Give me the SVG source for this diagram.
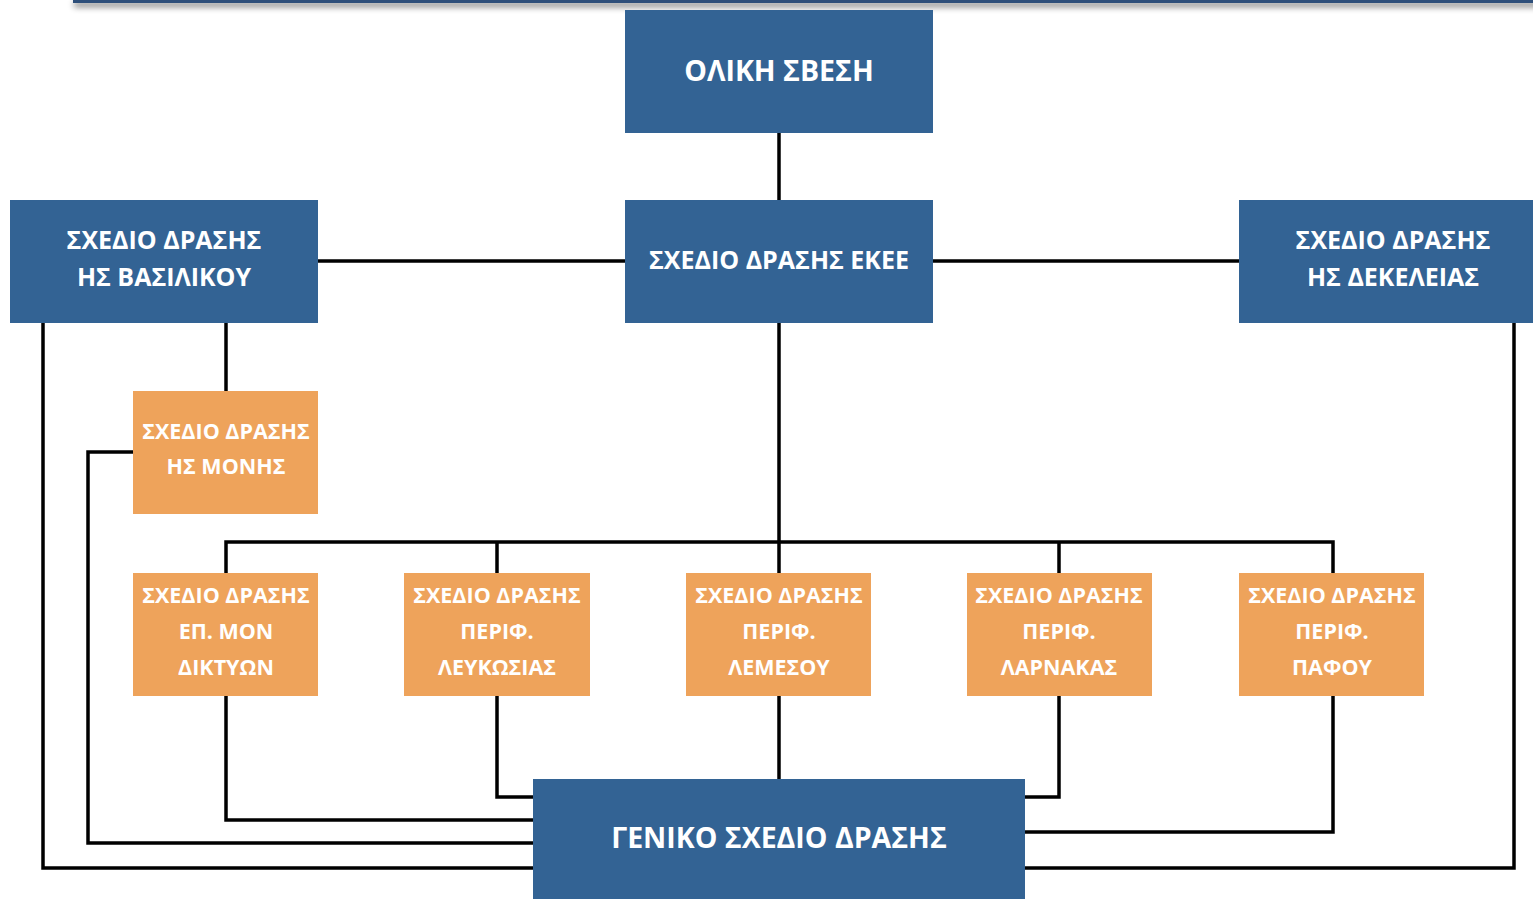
<svg xmlns="http://www.w3.org/2000/svg" width="1533" height="899" viewBox="0 0 1533 899">
<style>
.blue{fill:#336394}
.orange{fill:#EEA35B}
.tb{font-family:"Open Sans","Noto Sans","DejaVu Sans",sans-serif;font-weight:bold;fill:#fff;text-anchor:middle;font-size:25px}
.tl{font-size:28.5px}
.to{font-family:"Open Sans","Noto Sans","DejaVu Sans",sans-serif;font-weight:bold;fill:#fff;text-anchor:middle;font-size:21.5px}
.c{fill:none;stroke:#000;stroke-width:3.5}
</style>
<defs>
<filter id="sh" x="-5%" y="-200%" width="110%" height="600%">
<feGaussianBlur in="SourceAlpha" stdDeviation="3"/>
<feOffset dx="1" dy="4"/>
<feComponentTransfer><feFuncA type="linear" slope="0.5"/></feComponentTransfer>
<feMerge><feMergeNode/><feMergeNode in="SourceGraphic"/></feMerge>
</filter>
</defs>
<rect width="1533" height="899" fill="#fff"/>
<rect x="73" y="-2" width="1470" height="5" fill="#2F4F7A" filter="url(#sh)"/>
<g id="connectors">
<path class="c" d="M779 133V200"/>
<path class="c" d="M318 261H625M933 261H1239"/>
<path class="c" d="M226 323V391"/>
<path class="c" d="M779 323V573M226 573V542H1333V573M497 542V573M1059 542V573"/>
<path class="c" d="M779 696V779"/>
<path class="c" d="M226 696V820H533"/>
<path class="c" d="M497 696V797H533"/>
<path class="c" d="M1059 696V797H1025"/>
<path class="c" d="M1333 696V832H1025"/>
<path class="c" d="M1514 323V868H1025"/>
<path class="c" d="M43 323V868H533"/>
<path class="c" d="M133 452H88V843H533"/>
</g>
<g id="n_oliki"><rect class="blue" x="625" y="10" width="308" height="123"/><text class="tb tl" x="779" y="81">ΟΛΙΚΗ ΣΒΕΣΗ</text></g>
<g id="n_ekee"><rect class="blue" x="625" y="200" width="308" height="123"/><text class="tb" x="779" y="269">ΣΧΕΔΙΟ ΔΡΑΣΗΣ ΕΚΕΕ</text></g>
<g id="n_vasilikou"><rect class="blue" x="10" y="200" width="308" height="123"/><text class="tb" x="164" y="249">ΣΧΕΔΙΟ ΔΡΑΣΗΣ</text><text class="tb" x="164" y="286">ΗΣ ΒΑΣΙΛΙΚΟΥ</text></g>
<g id="n_dekeleias"><rect class="blue" x="1239" y="200" width="300" height="123"/><text class="tb" x="1393" y="249">ΣΧΕΔΙΟ ΔΡΑΣΗΣ</text><text class="tb" x="1393" y="286">ΗΣ ΔΕΚΕΛΕΙΑΣ</text></g>
<g id="n_monis"><rect class="orange" x="133" y="391" width="185" height="123"/><text class="to" x="226" y="439">ΣΧΕΔΙΟ ΔΡΑΣΗΣ</text><text class="to" x="226" y="474">ΗΣ ΜΟΝΗΣ</text></g>
<g id="n_diktyon"><rect class="orange" x="133" y="573" width="185" height="123"/><text class="to" x="226" y="603">ΣΧΕΔΙΟ ΔΡΑΣΗΣ</text><text class="to" x="226" y="639">ΕΠ. ΜΟΝ</text><text class="to" x="226" y="675">ΔΙΚΤΥΩΝ</text></g>
<g id="n_lefkosias"><rect class="orange" x="404" y="573" width="186" height="123"/><text class="to" x="497" y="603">ΣΧΕΔΙΟ ΔΡΑΣΗΣ</text><text class="to" x="497" y="639">ΠΕΡΙΦ.</text><text class="to" x="497" y="675">ΛΕΥΚΩΣΙΑΣ</text></g>
<g id="n_lemesou"><rect class="orange" x="686" y="573" width="185" height="123"/><text class="to" x="779" y="603">ΣΧΕΔΙΟ ΔΡΑΣΗΣ</text><text class="to" x="779" y="639">ΠΕΡΙΦ.</text><text class="to" x="779" y="675">ΛΕΜΕΣΟΥ</text></g>
<g id="n_larnakas"><rect class="orange" x="967" y="573" width="185" height="123"/><text class="to" x="1059" y="603">ΣΧΕΔΙΟ ΔΡΑΣΗΣ</text><text class="to" x="1059" y="639">ΠΕΡΙΦ.</text><text class="to" x="1059" y="675">ΛΑΡΝΑΚΑΣ</text></g>
<g id="n_pafou"><rect class="orange" x="1239" y="573" width="185" height="123"/><text class="to" x="1332" y="603">ΣΧΕΔΙΟ ΔΡΑΣΗΣ</text><text class="to" x="1332" y="639">ΠΕΡΙΦ.</text><text class="to" x="1332" y="675">ΠΑΦΟΥ</text></g>
<g id="n_geniko"><rect class="blue" x="533" y="779" width="492" height="125"/><text class="tb tl" x="779" y="848">ΓΕΝΙΚΟ ΣΧΕΔΙΟ ΔΡΑΣΗΣ</text></g>
</svg>
